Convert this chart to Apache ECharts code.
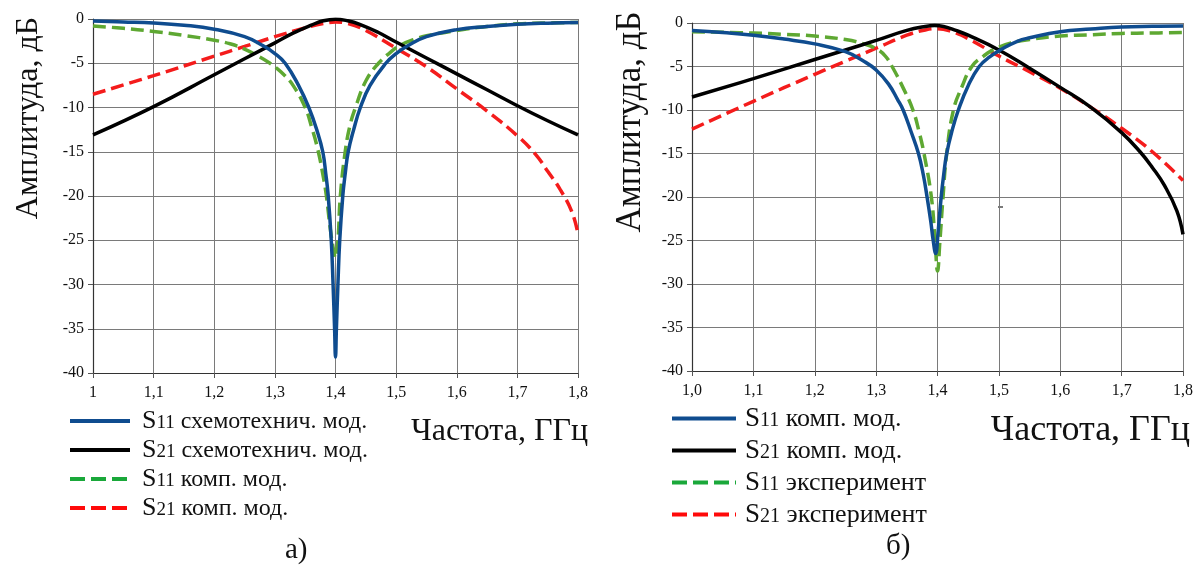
<!DOCTYPE html>
<html>
<head>
<meta charset="utf-8">
<script src="https://cdn.jsdelivr.net/npm/echarts@6/dist/echarts.min.js"></script>
<style>html,body{margin:0;padding:0;background:#fff;}#c{width:1196px;height:570px;}</style>
</head>
<body>
<div id="c"></div>
<script>
// ---- tick labels ----
const leftXLabels = ['1','1,1','1,2','1,3','1,4','1,5','1,6','1,7','1,8'];
const rightXLabels = ['1,0','1,1','1,2','1,3','1,4','1,5','1,6','1,7','1,8'];

// ---- chart а) ----
const aS11schX = [1.0,1.05,1.1,1.15,1.2,1.25,1.28,1.3,1.317,1.339,1.356,1.369,1.379,1.384,1.388,1.393,1.396,1.3985,1.4,1.4015,1.404,1.407,1.412,1.416,1.421,1.43,1.441,1.457,1.483,1.5,1.52,1.55,1.6,1.65,1.7,1.75,1.8];
const aS11schY = [-0.23,-0.33,-0.45,-0.7,-1.15,-2.0,-3.0,-3.9,-5,-7.5,-10,-12.5,-15,-17.5,-20,-25,-30,-35,-38.2,-35,-30,-25,-20,-17.5,-15,-12.5,-10,-7.5,-5,-3.9,-3.0,-2.0,-1.2,-0.85,-0.6,-0.47,-0.4];

const aS21schX = [1.0,1.1,1.2,1.25,1.3,1.33,1.36,1.38,1.4,1.42,1.44,1.47,1.5,1.55,1.6,1.65,1.7,1.75,1.8];
const aS21schY = [-13.1,-9.9,-6.3,-4.5,-2.7,-1.6,-0.7,-0.2,-0.02,-0.2,-0.6,-1.5,-2.6,-4.4,-6.2,-8.0,-9.8,-11.5,-13.1];

const aS11compX = [1.0,1.05,1.1,1.15,1.2,1.226,1.25,1.275,1.292,1.3,1.315,1.33,1.35,1.361,1.371,1.379,1.385,1.391,1.396,1.4,1.404,1.408,1.416,1.424,1.433,1.45,1.471,1.49,1.506,1.53,1.55,1.6,1.65,1.7,1.75,1.8];
const aS11compY = [-0.8,-1.05,-1.4,-1.85,-2.4,-2.8,-3.4,-4.3,-5,-5.4,-6.3,-7.5,-10,-12.3,-14.8,-17.5,-20,-23.5,-25.8,-27,-25,-20,-15,-12,-10,-7,-5,-3.8,-3.0,-2.3,-1.9,-1.3,-0.85,-0.55,-0.45,-0.4];

const aS21compX = [1.0,1.1,1.2,1.25,1.3,1.35,1.38,1.4,1.42,1.45,1.5,1.55,1.6,1.65,1.7,1.73,1.75,1.77,1.79,1.8];
const aS21compY = [-8.5,-6.4,-4.2,-3.1,-2.0,-1.0,-0.5,-0.35,-0.5,-1.3,-3.3,-5.4,-7.9,-10.4,-13.2,-15.3,-17.2,-19.2,-21.8,-24.3];

// ---- chart б) ----
const bS11compX = [1.0,1.05,1.1,1.15,1.2,1.25,1.28,1.3,1.32,1.335,1.344,1.357,1.369,1.377,1.383,1.389,1.393,1.397,1.401,1.406,1.41,1.415,1.424,1.434,1.45,1.468,1.485,1.505,1.53,1.55,1.6,1.65,1.7,1.75,1.8];
const bS11compY = [-0.85,-1.1,-1.4,-1.85,-2.4,-3.3,-4.4,-5.4,-7.0,-8.8,-10,-12.5,-15,-17.5,-20,-22.8,-25,-26.5,-24,-20,-17.5,-15,-12.3,-10,-7.2,-5,-3.9,-3.0,-2.1,-1.7,-1.0,-0.7,-0.45,-0.38,-0.35];

const bS21compX = [1.0,1.1,1.2,1.25,1.3,1.35,1.38,1.395,1.41,1.43,1.45,1.5,1.55,1.6,1.65,1.7,1.73,1.75,1.77,1.79,1.8];
const bS21compY = [-8.5,-6.4,-4.2,-3.1,-2.0,-0.85,-0.4,-0.3,-0.4,-0.85,-1.4,-3.1,-5.2,-7.4,-9.7,-12.6,-14.8,-16.6,-18.7,-21.6,-24.3];

const bS11expX = [1.0,1.1,1.15,1.2,1.25,1.28,1.3,1.315,1.326,1.345,1.36,1.37,1.378,1.39,1.396,1.4,1.404,1.409,1.415,1.426,1.44,1.456,1.475,1.493,1.52,1.55,1.6,1.65,1.7,1.75,1.8];
const bS11expY = [-1.0,-1.15,-1.3,-1.5,-1.9,-2.4,-2.95,-3.8,-5,-7.6,-10,-12.5,-15,-20,-25,-28.5,-25,-20,-15,-10,-7.3,-5,-3.8,-3.0,-2.3,-1.9,-1.5,-1.35,-1.2,-1.15,-1.1];

const bS21expX = [1.0,1.1,1.2,1.25,1.3,1.35,1.38,1.4,1.42,1.45,1.5,1.55,1.6,1.65,1.7,1.75,1.8];
const bS21expY = [-12.2,-9.0,-5.9,-4.4,-2.9,-1.4,-0.8,-0.65,-0.9,-1.8,-3.8,-5.6,-7.5,-9.7,-12.1,-14.8,-18.1];

// ---- legend texts ----
const legendText = {
  aS11sch: ['11', ' схемотехнич. мод.'],
  aS21sch: ['21', ' схемотехнич. мод.'],
  aS11comp: ['11', ' комп. мод.'],
  aS21comp: ['21', ' комп. мод.'],
  bS11comp: ['11', ' комп. мод.'],
  bS21comp: ['21', ' комп. мод.'],
  bS11exp: ['11', ' эксперимент'],
  bS21exp: ['21', ' эксперимент']
};

const FONT = "'Liberation Serif', 'Times New Roman', serif";
const BLUE = '#0f4c8f', BLACK = '#000000', GREEN = '#5ea832', RED = '#f41c1c';
const LEG_GREEN = '#1aa83a', LEG_RED = '#ff0a0a';

function pairs(xs, ys) { return xs.map((x, i) => [x, ys[i]]); }

function mkSeries(name, xi, xs, ys, color, dashed) {
  return {
    name: name, type: 'line', xAxisIndex: xi, yAxisIndex: xi,
    data: pairs(xs, ys), symbol: 'none', smooth: 0.45,
    lineStyle: { color: color, width: 3.5, type: dashed ? [13, 6] : 'solid', cap: 'butt' },
    itemStyle: { color: color },
    z: dashed ? 3 : 4
  };
}

function mkRich(sSize, nSize, tSize) {
  return {
    s: { fontFamily: FONT, fontSize: sSize, color: '#111', verticalAlign: 'bottom', lineHeight: sSize },
    n: { fontFamily: FONT, fontSize: nSize, color: '#111', verticalAlign: 'bottom', lineHeight: nSize, padding: [0, 0, 1, 0] },
    t: { fontFamily: FONT, fontSize: tSize, color: '#111', verticalAlign: 'bottom', lineHeight: tSize }
  };
}
function legendFmt(name) { const p = legendText[name]; return '{s|S}{n|' + p[0] + '}{t|' + p[1] + '}'; }

function legItem(name, color, dashed) {
  return { name: name, lineStyle: { color: color, width: 4, type: dashed ? [15, 6] : 'solid' } };
}

function mkX(gi, labels) {
  return {
    gridIndex: gi, type: 'value', min: 1, max: 1.8, interval: 0.1,
    axisLine: { show: true, onZero: false, lineStyle: { color: '#333', width: 1.2 } },
    axisTick: { show: true, length: 5, lineStyle: { color: '#555' } },
    splitLine: { show: true, lineStyle: { color: '#7a7a7a', width: 1 } },
    axisLabel: { fontFamily: FONT, fontSize: 16, color: '#111', margin: 12,
      formatter: v => labels[Math.round((v - 1) * 10)] }
  };
}
function mkY(gi, fs, gap, shift) {
  return {
    gridIndex: gi, type: 'value', min: -40, max: 0, interval: 5,
    name: 'Амплитуда, дБ', nameLocation: 'middle', nameGap: gap,
    nameTextStyle: { fontFamily: FONT, fontSize: fs, color: '#111', padding: [0, 0, 0, shift] },
    axisLine: { show: true, onZero: false, lineStyle: { color: '#333', width: 1.2 } },
    axisTick: { show: true, length: 5, lineStyle: { color: '#555' } },
    splitLine: { show: true, lineStyle: { color: '#7a7a7a', width: 1 } },
    axisLabel: { fontFamily: FONT, fontSize: 16, color: '#111', margin: 9 }
  };
}

const legendCommon = {
  orient: 'vertical', itemHeight: 14, selectedMode: false, padding: 0,
  itemStyle: { color: 'rgba(0,0,0,0)', borderWidth: 0, opacity: 0 },
  formatter: legendFmt
};

const chart = echarts.init(document.getElementById('c'), null, { renderer: 'canvas' });
chart.setOption({
  backgroundColor: '#ffffff',
  animation: false,
  grid: [
    { left: 93, top: 19, width: 485, height: 354 },
    { left: 692, top: 23, width: 491, height: 348 }
  ],
  xAxis: [mkX(0, leftXLabels), mkX(1, rightXLabels)],
  yAxis: [mkY(0, 32, 48, 156), mkY(1, 35, 44, 150)],
  legend: [
    Object.assign({}, legendCommon, { left: 68, top: 408, itemWidth: 60, itemGap: 3,
      data: [legItem('aS11sch', BLUE, false), legItem('aS21sch', BLACK, false), legItem('aS11comp', LEG_GREEN, true), legItem('aS21comp', LEG_RED, true)],
      textStyle: { rich: mkRich(26, 19, 24), padding: [0, 0, 0, 7] } }),
    Object.assign({}, legendCommon, { left: 670, top: 405, itemWidth: 64, itemGap: 5,
      data: [legItem('bS11comp', BLUE, false), legItem('bS21comp', BLACK, false), legItem('bS11exp', LEG_GREEN, true), legItem('bS21exp', LEG_RED, true)],
      textStyle: { rich: mkRich(27, 20, 26), padding: [0, 0, 0, 4] } })
  ],
  series: [
    mkSeries('aS21comp', 0, aS21compX, aS21compY, RED, true),
    mkSeries('aS11comp', 0, aS11compX, aS11compY, GREEN, true),
    mkSeries('aS21sch', 0, aS21schX, aS21schY, BLACK, false),
    mkSeries('aS11sch', 0, aS11schX, aS11schY, BLUE, false),
    mkSeries('bS21exp', 1, bS21expX, bS21expY, RED, true),
    mkSeries('bS11exp', 1, bS11expX, bS11expY, GREEN, true),
    mkSeries('bS21comp', 1, bS21compX, bS21compY, BLACK, false),
    mkSeries('bS11comp', 1, bS11compX, bS11compY, BLUE, false)
  ],
  graphic: [
    { type: 'text', right: 1196 - 588, top: 416, style: { text: 'Частота, ГГц', font: '32px ' + FONT, fill: '#111' } },
    { type: 'text', right: 1196 - 1190, top: 413, style: { text: 'Частота, ГГц', font: '36px ' + FONT, fill: '#111' } },
    { type: 'text', left: 285, top: 536, style: { text: 'а)', font: '29px ' + FONT, fill: '#111' } },
    { type: 'text', left: 886, top: 532, style: { text: 'б)', font: '29px ' + FONT, fill: '#111' } },
    { type: 'line', shape: { x1: 998, y1: 207, x2: 1003, y2: 207 }, style: { stroke: '#222', lineWidth: 1.2 } }
  ]
});
</script>
</body>
</html>
